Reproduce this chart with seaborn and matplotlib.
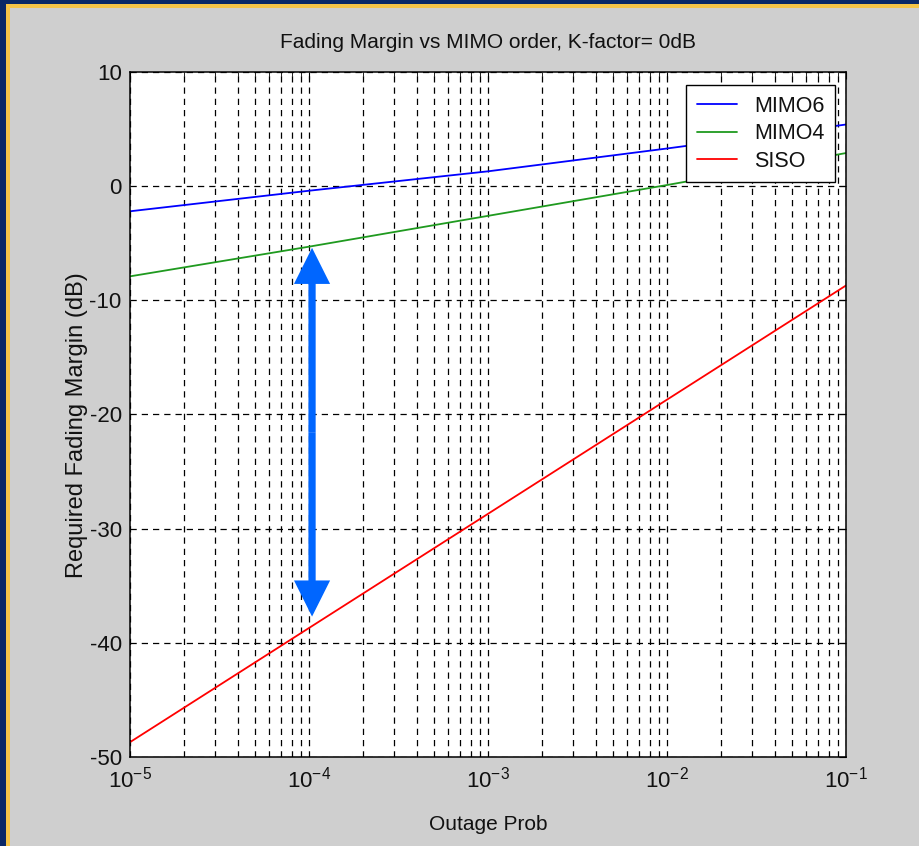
import matplotlib
matplotlib.use("Agg")
import matplotlib.pyplot as plt
import seaborn as sns
import pandas as pd
from matplotlib.patches import Rectangle
from matplotlib.ticker import LogLocator, NullFormatter

# values
outage_prob = [1e-5, 1e-4, 1e-3, 1e-2, 1e-1]
mimo6 = [-2.2, -0.4, 1.3, 3.3, 5.4]
mimo4 = [-7.9, -5.3, -2.6, 0.1, 2.9]
siso = [-48.7, -38.7, -28.7, -18.7, -8.7]
series = ["MIMO6", "MIMO4", "SISO"]
colors = ["#0000ff", "#1f9a1f", "#ff0000"]

arrow_x = 1.04e-4
arrow_top = -5.4
arrow_bottom = -37.7

sns.set_style("white")
plt.rcParams["font.family"] = ["Liberation Sans", "DejaVu Sans"]
plt.rcParams["mathtext.default"] = "regular"
plt.rcParams["axes.unicode_minus"] = False
for key in ("text.color", "axes.labelcolor", "xtick.color", "ytick.color"):
    plt.rcParams[key] = "#111111"

df = pd.DataFrame({
    "outage": outage_prob * 3,
    "margin": mimo6 + mimo4 + siso,
    "scheme": [s for s in series for _ in outage_prob],
})

fig = plt.figure(figsize=(9.19, 8.46), dpi=100)
fig.patch.set_facecolor("#0a2866")
# yellow frame + grey panel like the slide
fig.add_artist(Rectangle((6 / 919, 0), 1, (846 - 4) / 846, transform=fig.transFigure,
                         facecolor="#f5c448", edgecolor="none", zorder=-3))
fig.add_artist(Rectangle((10 / 919, 0), 1, (846 - 8) / 846, transform=fig.transFigure,
                         facecolor="#cfcfcf", edgecolor="none", zorder=-2))

ax = fig.add_axes([130 / 919, 89 / 846, 716 / 919, 685 / 846])
ax.set_facecolor("white")
ax.set_xscale("log")

sns.lineplot(data=df, x="outage", y="margin", hue="scheme", hue_order=series,
             palette=dict(zip(series, colors)), linewidth=1.3, ax=ax)

ax.set_xlim(1e-5, 1e-1)
ax.set_ylim(-50, 10)
ax.set_yticks(range(-50, 11, 10))
ax.xaxis.set_major_locator(LogLocator(base=10, numticks=10))
ax.xaxis.set_minor_locator(LogLocator(base=10, subs=range(2, 10), numticks=30))
ax.xaxis.set_minor_formatter(NullFormatter())

grid_style = dict(color="black", linestyle=(0, (5, 4)), linewidth=0.9)
ax.grid(True, which="major", axis="both", **grid_style)
ax.grid(True, which="minor", axis="x", **grid_style)
ax.set_axisbelow(True)

for sp in ax.spines.values():
    sp.set_color("black")
    sp.set_linewidth(1.1)

ax.tick_params(axis="both", which="both", direction="in", top=True, right=True,
               colors="black", labelcolor="#111111", labelsize=16)
ax.tick_params(axis="both", which="major", length=5)
ax.tick_params(axis="x", which="minor", length=3)
ax.tick_params(axis="y", pad=6)
ax.tick_params(axis="x", pad=7)

ax.set_title("Fading Margin vs MIMO order, K-factor= 0dB", fontsize=15, pad=17)
ax.set_xlabel("Outage Prob", fontsize=15)
ax.set_ylabel("Required Fading Margin (dB)", fontsize=17)
ax.xaxis.set_label_coords(0.5, -0.085)
ax.yaxis.set_label_coords(-0.059, 0.485)

leg = ax.legend(title=None, loc="upper right", bbox_to_anchor=(0.985, 0.981),
                borderaxespad=0, fontsize=15.5, frameon=True, fancybox=False,
                framealpha=1, edgecolor="black", handlelength=1.85,
                handletextpad=0.8, borderpad=0.5, labelspacing=0.3)
leg.get_frame().set_linewidth(1.0)

# double-headed blue arrow between MIMO4 and SISO at 1e-4
arrow_mid = (arrow_top + arrow_bottom) / 2
for tip in (arrow_top, arrow_bottom):
    ax.annotate("", xy=(arrow_x, tip), xytext=(arrow_x, arrow_mid),
                arrowprops=dict(arrowstyle="simple,head_length=26,head_width=26,tail_width=5.2",
                                mutation_scale=1, color="#0066ff", lw=0,
                                shrinkA=0, shrinkB=0))

fig.savefig("out.png", dpi=100, facecolor=fig.get_facecolor())
